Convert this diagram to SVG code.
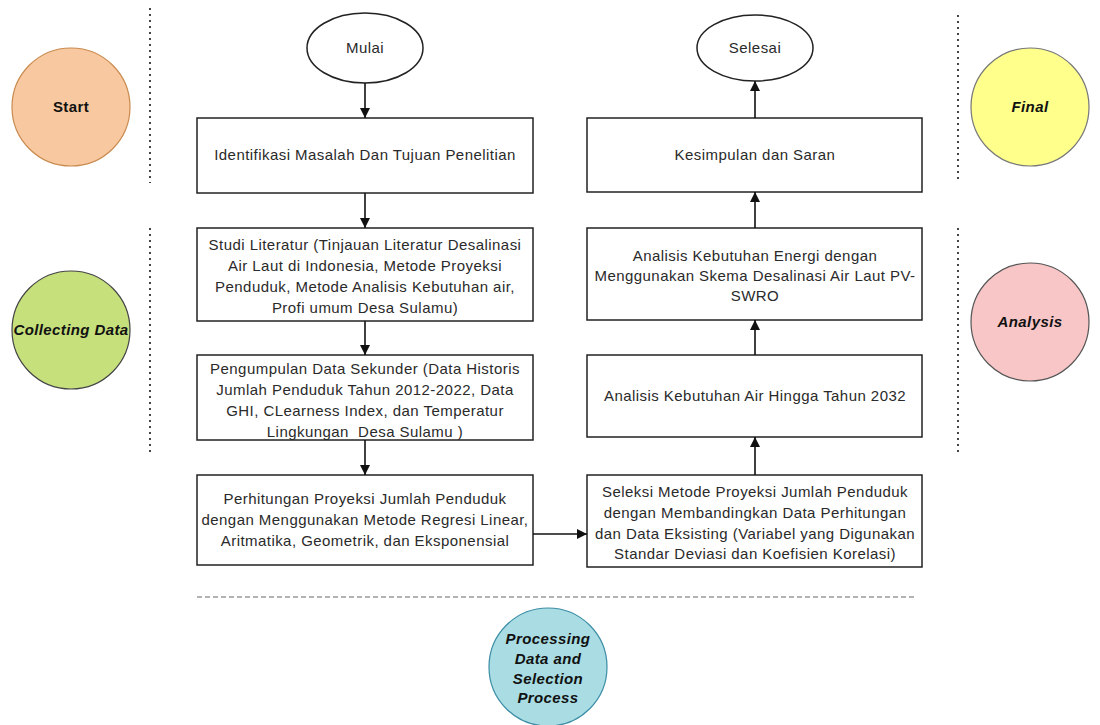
<svg xmlns="http://www.w3.org/2000/svg" width="1100" height="725" viewBox="0 0 1100 725">
<defs>
<marker id="arr" viewBox="0 0 10 10" refX="10" refY="5" markerWidth="10" markerHeight="10" markerUnits="userSpaceOnUse" orient="auto">
<path d="M0,0 L10,5 L0,10 z" fill="#111"/>
</marker>
<style>
.box{fill:#fff;stroke:#222;stroke-width:1.5}
.t{font-family:"Liberation Sans",Arial,sans-serif;font-size:15px;letter-spacing:0.45px;fill:#2a2a2a;text-anchor:middle}
.c{font-family:"Liberation Sans",Arial,sans-serif;font-size:15px;letter-spacing:0.4px;font-weight:bold;font-style:italic;fill:#111;text-anchor:middle}
.up{font-style:normal}
.con{stroke:#111;stroke-width:1.6;fill:none;marker-end:url(#arr)}
.dot{stroke:#444;stroke-width:2;stroke-dasharray:2 4;fill:none}
.dash{stroke:#666;stroke-width:1.2;stroke-dasharray:5 3;fill:none}
</style>
</defs>
<rect width="1100" height="725" fill="#fff"/>

<g id="separators">
<line class="dot" x1="150" y1="8" x2="150" y2="183"/>
<line class="dot" x1="150" y1="228" x2="150" y2="452"/>
<line class="dot" x1="958" y1="15" x2="958" y2="183"/>
<line class="dot" x1="958" y1="228" x2="958" y2="452"/>
<line class="dash" x1="197" y1="597" x2="915" y2="597"/>
</g>

<g id="phase-start">
<circle cx="71" cy="107" r="59" fill="#F8C9A0" stroke="#C98A4E" stroke-width="1.2"/>
<text class="c up" x="71" y="112">Start</text>
</g>
<g id="phase-collecting">
<circle cx="71" cy="330" r="59" fill="#C6E07C" stroke="#444" stroke-width="1.2"/>
<text class="c" x="71" y="335">Collecting Data</text>
</g>
<g id="phase-final">
<circle cx="1030" cy="107" r="59" fill="#FFFF8C" stroke="#777" stroke-width="1.2"/>
<text class="c" x="1030" y="112">Final</text>
</g>
<g id="phase-analysis">
<circle cx="1030" cy="322" r="59" fill="#F8C6C6" stroke="#555" stroke-width="1.2"/>
<text class="c" x="1030" y="327">Analysis</text>
</g>
<g id="phase-processing">
<circle cx="548" cy="667" r="59" fill="#A9DDE3" stroke="#3C8DA6" stroke-width="1.2"/>
<text class="c" x="548" y="644">Processing</text>
<text class="c" x="548" y="664">Data and</text>
<text class="c" x="548" y="684">Selection</text>
<text class="c" x="548" y="703">Process</text>
</g>

<g id="mulai">
<ellipse cx="365" cy="48" rx="58" ry="35" class="box"/>
<text class="t" x="365" y="53">Mulai</text>
</g>
<g id="selesai">
<ellipse cx="755" cy="48" rx="58" ry="33" class="box"/>
<text class="t" x="755" y="53">Selesai</text>
</g>

<g id="identifikasi">
<rect class="box" x="197" y="118" width="336" height="75"/>
<text class="t" x="365" y="160">Identifikasi Masalah Dan Tujuan Penelitian</text>
</g>
<g id="studi">
<rect class="box" x="197" y="228" width="336" height="93"/>
<text class="t" x="365" y="250">Studi Literatur (Tinjauan Literatur Desalinasi</text>
<text class="t" x="365" y="271">Air Laut di Indonesia, Metode Proyeksi</text>
<text class="t" x="365" y="292">Penduduk, Metode Analisis Kebutuhan air,</text>
<text class="t" x="365" y="313">Profi umum Desa Sulamu)</text>
</g>
<g id="pengumpulan">
<rect class="box" x="197" y="355" width="336" height="85"/>
<text class="t" x="365" y="374">Pengumpulan Data Sekunder (Data Historis</text>
<text class="t" x="365" y="395">Jumlah Penduduk Tahun 2012-2022, Data</text>
<text class="t" x="365" y="416">GHI, CLearness Index, dan Temperatur</text>
<text class="t" x="365" y="437" xml:space="preserve">Lingkungan  Desa Sulamu )</text>
</g>
<g id="perhitungan">
<rect class="box" x="197" y="475" width="336" height="90"/>
<text class="t" x="365" y="504">Perhitungan Proyeksi Jumlah Penduduk</text>
<text class="t" x="365" y="525">dengan Menggunakan Metode Regresi Linear,</text>
<text class="t" x="365" y="546">Aritmatika, Geometrik, dan Eksponensial</text>
</g>
<g id="seleksi">
<rect class="box" x="587" y="475" width="335" height="92"/>
<text class="t" x="755" y="497">Seleksi Metode Proyeksi Jumlah Penduduk</text>
<text class="t" x="755" y="518">dengan Membandingkan Data Perhitungan</text>
<text class="t" x="755" y="539">dan Data Eksisting (Variabel yang Digunakan</text>
<text class="t" x="755" y="559">Standar Deviasi dan Koefisien Korelasi)</text>
</g>
<g id="analisis-air">
<rect class="box" x="587" y="355" width="335" height="82"/>
<text class="t" x="755" y="401">Analisis Kebutuhan Air Hingga Tahun 2032</text>
</g>
<g id="analisis-energi">
<rect class="box" x="587" y="228" width="335" height="92"/>
<text class="t" x="755" y="261">Analisis Kebutuhan Energi dengan</text>
<text class="t" x="755" y="281">Menggunakan Skema Desalinasi Air Laut PV-</text>
<text class="t" x="755" y="301">SWRO</text>
</g>
<g id="kesimpulan">
<rect class="box" x="587" y="118" width="335" height="74"/>
<text class="t" x="755" y="160">Kesimpulan dan Saran</text>
</g>

<g id="connectors">
<line class="con" x1="365" y1="83" x2="365" y2="118"/>
<line class="con" x1="365" y1="193" x2="365" y2="228"/>
<line class="con" x1="365" y1="321" x2="365" y2="355"/>
<line class="con" x1="365" y1="440" x2="365" y2="475"/>
<line class="con" x1="533" y1="534" x2="587" y2="534"/>
<line class="con" x1="755" y1="475" x2="755" y2="437"/>
<line class="con" x1="755" y1="355" x2="755" y2="320"/>
<line class="con" x1="755" y1="228" x2="755" y2="192"/>
<line class="con" x1="755" y1="118" x2="755" y2="81"/>
</g>
</svg>
